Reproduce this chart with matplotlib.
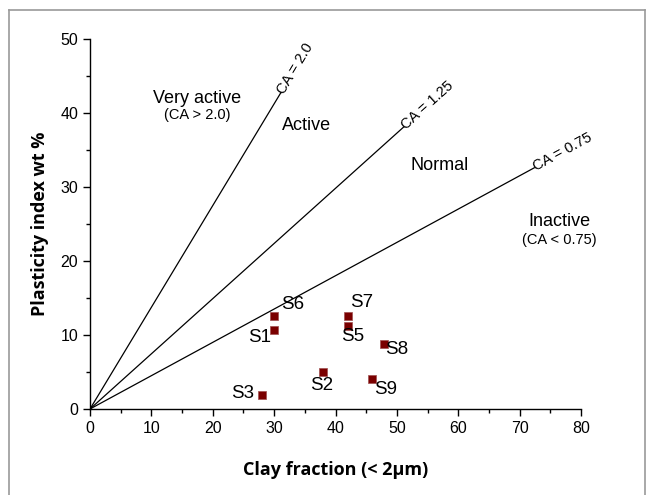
import matplotlib
matplotlib.use("Agg")
import matplotlib.pyplot as plt
from matplotlib.lines import Line2D
import numpy as np

# Sample data
samples = ["S1", "S2", "S3", "S5", "S6", "S7", "S8", "S9"]
clay = [30.0, 38.0, 28.0, 42.0, 30.0, 42.0, 47.9, 46.0]
pi = [10.7, 5.05, 1.95, 11.2, 12.6, 12.6, 8.8, 4.0]
label_x = [27.6, 37.8, 24.8, 42.8, 33.0, 44.3, 50.0, 48.2]
label_y = [9.6, 3.2, 2.1, 9.75, 14.1, 14.4, 8.1, 2.7]

# Activity lines (end points as drawn in the reference)
ca_names = ["CA = 2.0", "CA = 1.25", "CA = 0.75"]
ca_end_x = [31.1, 51.1, 72.4]
ca_end_y = [42.75, 38.1, 32.6]

# Region labels
region_text = ["Very active", "(CA > 2.0)", "Active", "Normal", "Inactive", "(CA < 0.75)"]
region_x = [17.5, 17.5, 35.3, 56.9, 76.5, 76.5]
region_y = [41.9, 39.7, 38.3, 32.9, 25.3, 22.8]
region_size = [13, 10.5, 13, 13, 13, 10.5]

plt.rcParams['font.family'] = ['Liberation Sans', 'DejaVu Sans']

fig = plt.figure(figsize=(6.47, 4.95), dpi=100)
ax = fig.add_axes([90/647, 1-409/495, 491/647, 370/495])

# figure frame
for xs, ys in [([9/647, 9/647], [0, 1-10/495]), ([9/647, 645/647], [1-10/495, 1-10/495]),
               ([645/647, 645/647], [1-10/495, 0])]:
    fig.add_artist(Line2D(xs, ys, transform=fig.transFigure, color='#9a9a9a', lw=1.2))

for ex, ey in zip(ca_end_x, ca_end_y):
    ax.plot([0, ex], [0, ey], color='black', lw=0.9, zorder=2)

ax.scatter(clay, pi, marker='s', s=40, color='#7a0000', edgecolors='#a05050', linewidths=0.5, zorder=3)
for lab, lx, ly in zip(samples, label_x, label_y):
    ax.text(lx, ly, lab, fontsize=13.5, ha='center', va='center')

for t, x, y, s in zip(region_text, region_x, region_y, region_size):
    ax.text(x, y, t, fontsize=s, ha='center', va='center')

ax.set_xlim(0, 80)
ax.set_ylim(0, 50)
ax.set_xticks(np.arange(0, 81, 10))
ax.set_yticks(np.arange(0, 51, 10))
ax.set_xticks(np.arange(5, 80, 10), minor=True)
ax.set_yticks(np.arange(5, 50, 10), minor=True)
ax.tick_params(which='major', direction='out', length=5, width=1, labelsize=11.5)
ax.tick_params(which='minor', direction='out', length=3, width=1)
ax.spines['top'].set_visible(False)
ax.spines['right'].set_visible(False)
ax.spines['left'].set_linewidth(1)
ax.spines['bottom'].set_linewidth(1)

ax.set_xlabel("Clay fraction (< 2μm)", fontsize=13, fontweight='bold',
              family=['Open Sans', 'DejaVu Sans'], labelpad=18)
ax.set_ylabel("Plasticity index wt %", fontsize=13, fontweight='bold',
              family=['Open Sans', 'DejaVu Sans'], labelpad=8)

fig.canvas.draw()
for name, ex, ey in zip(ca_names, ca_end_x, ca_end_y):
    p0 = ax.transData.transform((0, 0))
    p1 = ax.transData.transform((ex, ey))
    ang = np.degrees(np.arctan2(p1[1]-p0[1], p1[0]-p0[0]))
    ax.text(ex, ey, name, fontsize=10.5, rotation=ang, rotation_mode='anchor',
            ha='left', va='center', zorder=4)

fig.savefig("out.png", dpi=100)
